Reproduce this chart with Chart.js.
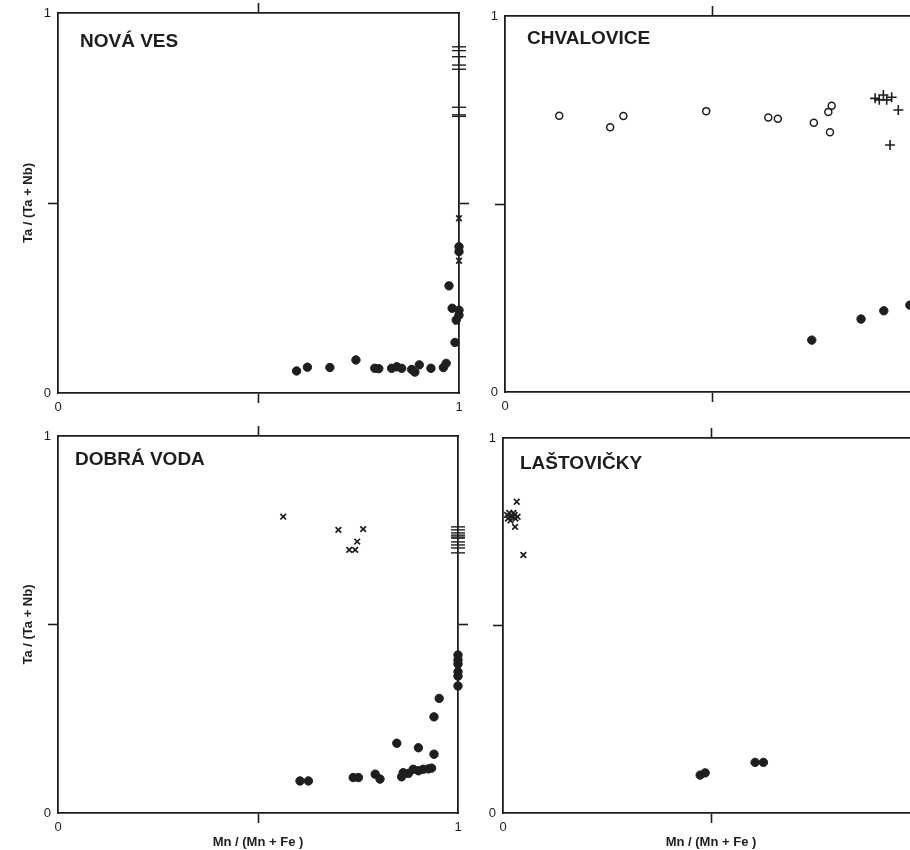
<!DOCTYPE html>
<html>
<head>
<meta charset="utf-8">
<script src="https://cdn.jsdelivr.net/npm/chart.js@4.4.1/dist/chart.umd.min.js"></script>
<style>
  html, body { margin: 0; padding: 0; background: #fff; overflow: hidden; width: 910px; height: 850px; }
  canvas { position: absolute; }
</style>
</head>
<body>
<canvas id="novaVes" width="470" height="420" style="left:0;top:0"></canvas>
<canvas id="chvalovice" width="500" height="420" style="left:460px;top:0"></canvas>
<canvas id="dobraVoda" width="470" height="430" style="left:0;top:420px"></canvas>
<canvas id="lastovicky" width="500" height="430" style="left:460px;top:420px"></canvas>
<script>
// values, [Mn/(Mn+Fe), Ta/(Ta+Nb)]
const novaDots = [[0.595,0.058],[0.622,0.068],[0.678,0.067],[0.743,0.087],[0.790,0.065],[0.800,0.064],
  [0.832,0.065],[0.845,0.069],[0.857,0.065],[0.882,0.062],[0.890,0.055],[0.901,0.074],[0.930,0.065],
  [0.961,0.067],[0.968,0.078],[0.975,0.282],[0.983,0.223],[1.0,0.218],[0.993,0.192],[1.0,0.205],
  [0.990,0.133],[1.0,0.385],[1.0,0.372]];
const novaCrosses = [[1.0,0.460],[1.0,0.348],[0.995,0.188]];
const novaDashes = [0.911,0.901,0.885,0.863,0.852,0.752,0.732,0.728];

const chvalCircles = [[0.131,0.735],[0.254,0.704],[0.286,0.734],[0.486,0.747],[0.636,0.730],[0.659,0.727],
  [0.746,0.716],[0.781,0.745],[0.789,0.761],[0.785,0.691]];
const chvalPlus = [[0.894,0.781],[0.904,0.777],[0.914,0.790],[0.922,0.777],[0.934,0.784],[0.950,0.750],[0.930,0.657]];
const chvalDots = [[0.741,0.138],[0.860,0.194],[0.915,0.216],[0.978,0.231]];

const dobraCrosses = [[0.563,0.786],[0.701,0.751],[0.763,0.753],[0.748,0.720],[0.728,0.698],[0.743,0.698]];
const dobraDashes = [0.759,0.751,0.743,0.737,0.732,0.729,0.719,0.711,0.703,0.690];
const dobraDots = [[0.605,0.085],[0.626,0.085],[0.738,0.094],[0.751,0.094],[0.793,0.103],[0.805,0.090],
  [0.847,0.185],[0.859,0.096],[0.863,0.107],[0.876,0.105],[0.888,0.116],[0.901,0.112],[0.913,0.116],
  [0.926,0.117],[0.934,0.119],[0.901,0.173],[0.940,0.156],[0.940,0.255],[0.953,0.304],
  [1.0,0.419],[1.0,0.406],[1.0,0.395],[1.0,0.375],[1.0,0.363],[1.0,0.337]];

const lastCrosses = [[0.033,0.830],[0.010,0.795],[0.015,0.800],[0.020,0.790],[0.025,0.800],[0.030,0.785],
  [0.018,0.780],[0.028,0.795],[0.035,0.790],[0.012,0.785],[0.029,0.763],[0.049,0.688]];
const lastDots = [[0.474,0.101],[0.486,0.107],[0.606,0.135],[0.626,0.135]];

const ink = '#1e1e1e';
const pts = arr => arr.map(p => ({x: p[0], y: p[1]}));

function dots(arr) {
  return {data: pts(arr), pointStyle: 'circle', pointRadius: 4.2, backgroundColor: ink, borderColor: ink, borderWidth: 1, clip: false};
}
function rings(arr) {
  return {data: pts(arr), pointStyle: 'circle', pointRadius: 3.5, backgroundColor: 'rgba(0,0,0,0)', borderColor: ink, borderWidth: 1.5, clip: false};
}
function crosses(arr) {
  return {data: pts(arr), pointStyle: 'crossRot', pointRadius: 4, borderColor: ink, borderWidth: 1.7, clip: false};
}
function pluses(arr) {
  return {data: pts(arr), pointStyle: 'cross', pointRadius: 5, borderColor: ink, borderWidth: 1.6, clip: false};
}
// short horizontal strokes sitting on the right-hand axis (x = 1)
function dashes(ys) {
  return {data: ys.map(y => ({x: 1, y})), pointStyle: 'line', pointRadius: 7, borderColor: ink, borderWidth: 1.4, clip: false};
}

const panelTitle = {
  id: 'panelTitle',
  afterDraw(chart, args, o) {
    const {ctx, chartArea} = chart;
    ctx.save();
    ctx.font = 'bold 19px "Liberation Sans", Arial, sans-serif';
    ctx.fillStyle = ink;
    ctx.fillText(o.text, chartArea.left + o.dx, chartArea.top + o.dy);
    ctx.restore();
  }
};

const tickFont = {family: '"Liberation Sans", Arial, sans-serif', size: 13};
const midTick = c => (c.tick && c.tick.value === 0.5) ? ink : 'rgba(0,0,0,0)';

function axis(position, size, showLabels, title) {
  const horizontal = position === 'top' || position === 'bottom';
  return {
    type: 'linear', position, min: 0, max: 1,
    ticks: {stepSize: 0.5, display: showLabels, autoSkip: false, maxRotation: 0, padding: -3,
            color: ink, font: tickFont, callback: v => v === 0.5 ? '' : String(v)},
    grid: {drawOnChartArea: false, drawTicks: true, tickLength: 10, tickColor: midTick, tickWidth: 1.6},
    border: {display: true, color: ink, width: 1.8},
    title: title ? {display: true, text: title, color: ink,
      font: {family: '"Liberation Sans", Arial, sans-serif', size: 13, weight: 'bold'},
      padding: horizontal ? {top: 0, bottom: 0} : {top: 21, bottom: 0}} : {display: false},
    afterFit: s => { if (horizontal) s.height = size; else s.width = size; }
  };
}

function makePanel(id, datasets, box, name) {
  new Chart(document.getElementById(id), {
    type: 'scatter',
    data: {datasets},
    options: {
      responsive: false,
      animation: false,
      layout: {padding: 0},
      scales: {
        x: axis('bottom', box.bottom, true, box.xTitle ? 'Mn / (Mn + Fe )' : null),
        y: axis('left', box.left, true, box.yTitle ? 'Ta / (Ta + Nb)' : null),
        x2: axis('top', box.top, false, null),
        y2: axis('right', box.right, false, null)
      },
      plugins: {
        legend: {display: false},
        tooltip: {enabled: false},
        panelTitle: name
      }
    },
    plugins: [panelTitle]
  });
}

makePanel('novaVes',
  [dots(novaDots), crosses(novaCrosses), dashes(novaDashes)],
  {left: 58, top: 13, right: 11, bottom: 27, yTitle: true},
  {text: 'NOVÁ VES', dx: 22, dy: 34});

makePanel('chvalovice',
  [rings(chvalCircles), pluses(chvalPlus), dots(chvalDots)],
  {left: 45, top: 16, right: 41, bottom: 28},
  {text: 'CHVALOVICE', dx: 22, dy: 28});

makePanel('dobraVoda',
  [crosses(dobraCrosses), dashes(dobraDashes), dots(dobraDots)],
  {left: 58, top: 16, right: 12, bottom: 37, yTitle: true, xTitle: true},
  {text: 'DOBRÁ VODA', dx: 17, dy: 29});

makePanel('lastovicky',
  [crosses(lastCrosses), dots(lastDots)],
  {left: 43, top: 18, right: 41, bottom: 37, xTitle: true},
  {text: 'LAŠTOVIČKY', dx: 17, dy: 31});
</script>
</body>
</html>
